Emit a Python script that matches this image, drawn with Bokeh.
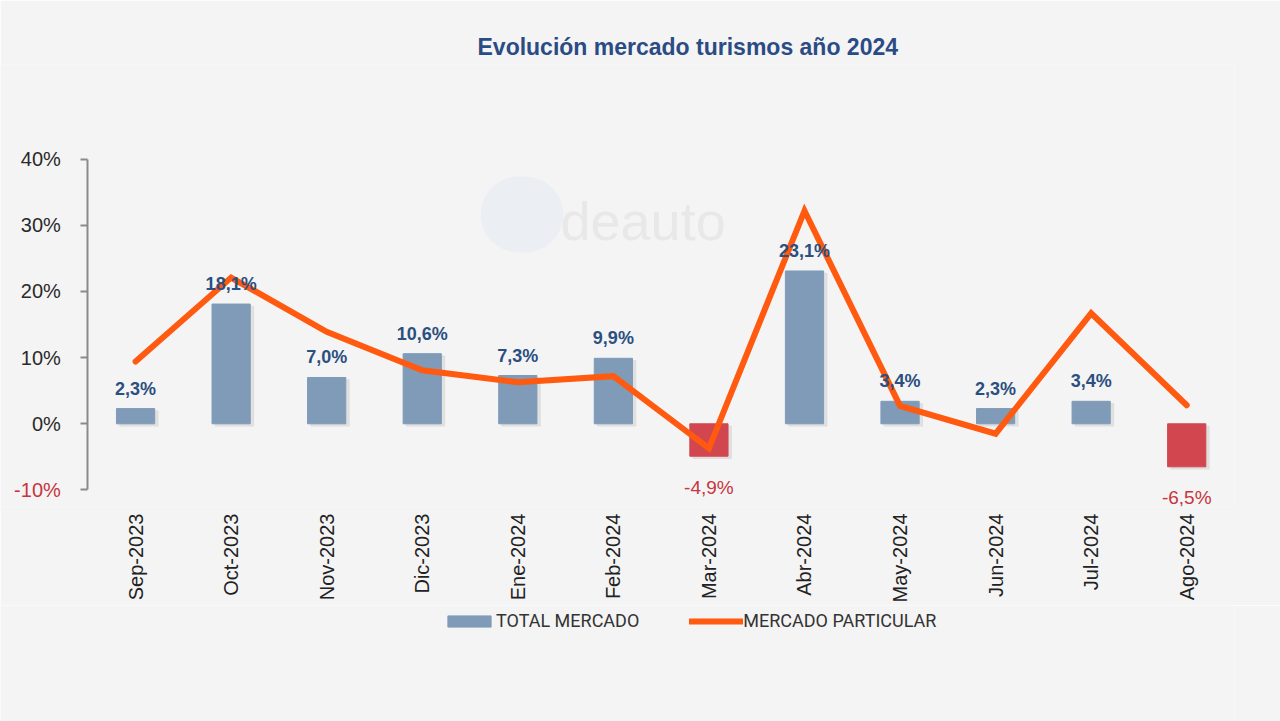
import math
from bokeh.plotting import figure
from bokeh.layouts import column
from bokeh.models import (ColumnDataSource, Range1d, Legend, LegendItem, Label, BoxAnnotation,
                          FixedTicker, CustomJSTickFormatter)
from bokeh.transform import dodge
from bokeh.core.properties import value
from bokeh.embed import file_html
from bokeh.resources import INLINE

# ---- data ----
months = ["Sep-2023", "Oct-2023", "Nov-2023", "Dic-2023", "Ene-2024", "Feb-2024",
          "Mar-2024", "Abr-2024", "May-2024", "Jun-2024", "Jul-2024", "Ago-2024"]
total_mercado = [2.3, 18.1, 7.0, 10.6, 7.3, 9.9, -4.9, 23.1, 3.4, 2.3, 3.4, -6.5]
mercado_particular = [9.4, 22.1, 13.9, 8.1, 6.3, 7.2, -3.7, 32.2, 2.7, -1.5, 16.7, 2.8]
y_ticks = [-10, 0, 10, 20, 30, 40]
series_names = ["TOTAL MERCADO", "MERCADO PARTICULAR"]
chart_title = "Evolución mercado turismos año 2024"

BG = "#f4f4f4"
BLUE = "#7f9bb8"
RED = "#d2464f"
ORANGE = "#ff5a0f"
LBL_BLUE = "#2b4f80"
LBL_RED = "#c8343f"

def fmt(v):
    return ("%.1f" % v).replace(".", ",") + "%"

idx = list(range(len(months)))
src = ColumnDataSource(dict(
    x=idx, top=total_mercado,
    color=[BLUE if v >= 0 else RED for v in total_mercado],
))
pos_src = ColumnDataSource(dict(x=[i for i in idx if total_mercado[i] >= 0],
                                y=[v for v in total_mercado if v >= 0],
                                t=[fmt(v) for v in total_mercado if v >= 0]))
neg_src = ColumnDataSource(dict(x=[i for i in idx if total_mercado[i] < 0],
                                y=[v for v in total_mercado if v < 0],
                                t=[fmt(v) for v in total_mercado if v < 0]))

x_start, x_end = -1.4136, 11.5
y_lo = y_ticks[0] - 2.5
y_hi = y_ticks[-1] + 14.31
p = figure(width=1280, height=605, x_range=Range1d(x_start, x_end), y_range=Range1d(y_lo, y_hi),
           output_backend="svg", toolbar_location=None,
           min_border_left=0, min_border_right=46, min_border_top=64, min_border_bottom=93)
p.background_fill_color = BG
p.border_fill_color = BG
p.outline_line_color = None
p.xgrid.grid_line_color = None
p.ygrid.grid_line_color = None

# faint watermark (decoration)
p.add_layout(BoxAnnotation(left=480, right=563, bottom=254, top=330,
                           left_units="screen", right_units="screen",
                           bottom_units="screen", top_units="screen",
                           border_radius=40, fill_color="#ebeff3", fill_alpha=1,
                           line_color=None, level="underlay"))
p.add_layout(Label(x=560, y=286, x_units="screen", y_units="screen", text="deauto",
                   text_baseline="alphabetic", text_color="#e8e8e8",
                   text_font="Liberation Sans", text_font_size="54px", level="underlay"))

# soft shadow + bars
p.vbar(x=dodge("x", 0.035), top=dodge("top", -0.35), bottom=-0.35, width=0.4,
       color="#d9d9d9", alpha=0.7, source=src)
bars = p.vbar(x="x", top="top", bottom=0, width=0.4, color="color", source=src)
line = p.line(x=idx, y=mercado_particular, line_width=6, line_color=ORANGE,
              line_join="miter", line_cap="round")

p.text(x="x", y="y", text="t", source=pos_src, text_align="center", text_baseline="middle",
       y_offset=-20, text_color=LBL_BLUE, text_font=value("Liberation Sans"),
       text_font_size="18px", text_font_style="bold")
p.text(x="x", y="y", text="t", source=neg_src, text_align="center", text_baseline="middle",
       y_offset=31, text_color=LBL_RED, text_font=value("Liberation Sans"),
       text_font_size="19px")

# y axis, fixed at the left edge of the first category
yax = p.yaxis[0]
yax.fixed_location = -0.5
yax.ticker = FixedTicker(ticks=y_ticks)
yax.bounds = (y_ticks[0], y_ticks[-1])
yax.formatter = CustomJSTickFormatter(code="return tick == %d ? '' : tick + '%%';" % y_ticks[0])
yax.axis_line_color = "#8a8a8a"
yax.axis_line_width = 2
yax.major_tick_line_color = "#8a8a8a"
yax.major_tick_line_width = 2
yax.major_tick_out = 7
yax.major_tick_in = 0
yax.minor_tick_line_color = None
yax.major_label_text_font = "Liberation Sans"
yax.major_label_text_font_size = "20px"
yax.major_label_text_color = "#2a2a2a"
yax.major_label_standoff = 20

# the negative tick label is red in the original
p.text(x=[-0.5], y=[y_ticks[0]], text=["%d%%" % y_ticks[0]], x_offset=-27,
       text_align="right", text_baseline="middle", text_color=LBL_RED,
       text_font=value("Liberation Sans"), text_font_size="20px")

xax = p.xaxis[0]
xax.ticker = FixedTicker(ticks=idx)
xax.major_label_overrides = {i: m for i, m in zip(idx, months)}
xax.axis_line_color = None
xax.major_tick_line_color = None
xax.minor_tick_line_color = None
xax.major_label_orientation = math.pi / 2
xax.major_label_text_font = "Liberation Sans"
xax.major_label_text_font_size = "20px"
xax.major_label_text_color = "#222222"
xax.major_label_standoff = 1

p.title.text = chart_title
p.title.align = "left"
p.title.offset = 477
p.title.standoff = 10
p.title.text_font = "Liberation Sans"
p.title.text_font_size = "23px"
p.title.text_font_style = "bold"
p.title.text_color = "#2b4b85"

# legend strip (its renderers lie outside its visible range; only the legend shows)
lp = figure(width=1280, height=116, x_range=p.x_range, y_range=Range1d(1000, 1001),
            output_backend="svg", toolbar_location=None,
            x_axis_location=None, y_axis_location=None,
            min_border_left=0, min_border_right=46, min_border_top=0, min_border_bottom=0)
lp.background_fill_color = BG
lp.border_fill_color = BG
lp.outline_line_color = None
lp.xgrid.grid_line_color = None
lp.ygrid.grid_line_color = None
lbar = lp.vbar(x=idx, top=total_mercado, width=0.4, color=BLUE)
lline = lp.line(x=idx, y=mercado_particular, line_width=6, line_color=ORANGE, line_cap="round")
legend = Legend(items=[LegendItem(label=series_names[0], renderers=[lbar]),
                       LegendItem(label=series_names[1], renderers=[lline])],
                orientation="horizontal", location=(442, 90),
                background_fill_alpha=0, border_line_color=None,
                padding=0, margin=0,
                glyph_width=54, glyph_height=14, spacing=50, label_standoff=-3,
                label_text_font="Roboto", label_text_font_size="18px",
                label_text_color="#333333")
lp.add_layout(legend)

layout = column(p, lp, spacing=0)
html = file_html(layout, INLINE)
html = html.replace("<body>", '<body style="background:%s;margin:0">' % BG, 1)
open("out.html", "w").write(html)
